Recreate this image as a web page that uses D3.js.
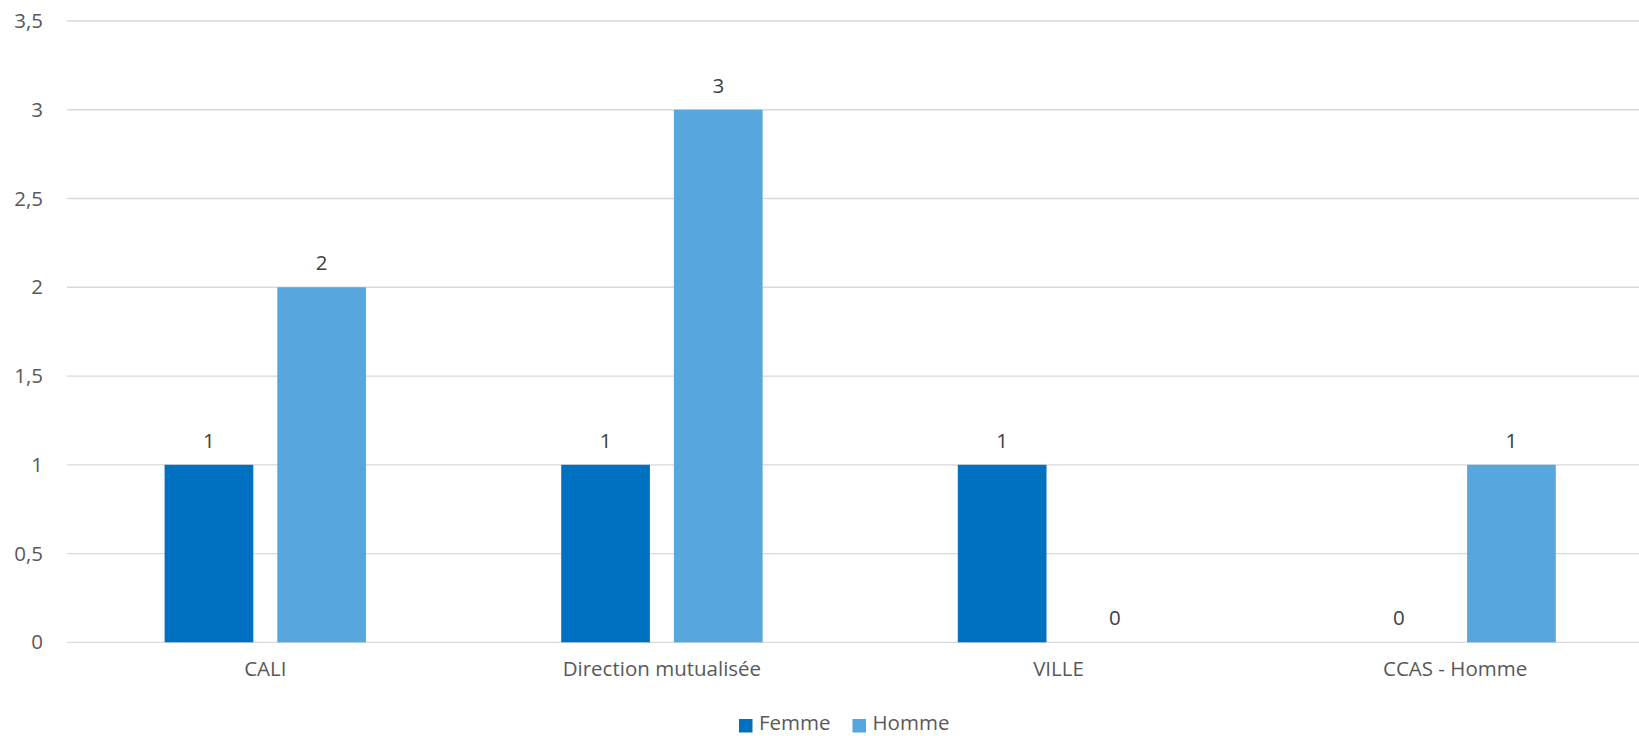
<!DOCTYPE html>
<html>
<head>
<meta charset="utf-8">
<script src="https://cdn.jsdelivr.net/npm/d3@7"></script>
<style>
  html, body { margin: 0; padding: 0; background: #fff; }
  svg { display: block; }
  text { font-family: "Open Sans", "Noto Sans", sans-serif; }
</style>
</head>
<body>
<div id="chart"></div>
<script>
// Categories and series
const categories = ["CALI", "Direction mutualisée", "VILLE", "CCAS - Homme"];
const seriesNames = ["Femme", "Homme"];
const femme = [1, 1, 1, 0];
const homme = [2, 3, 0, 1];
const yTicks = [0, 0.5, 1, 1.5, 2, 2.5, 3, 3.5];
const colors = ["#0070C0", "#57A6DE"];

const W = 1639, H = 736;
const FS = "20.5px";
const svg = d3.select("#chart").append("svg")
  .attr("width", W).attr("height", H);

const plotLeft = 67, bandW = 396.6;
const x = d3.scaleBand()
  .domain(categories)
  .range([plotLeft, plotLeft + bandW * categories.length])
  .paddingInner(0).paddingOuter(0);

const y = d3.scaleLinear().domain([0, 3.5]).range([642.3, 21]);

const barW = 88.7, gap = 24;
const fmt = v => String(v).replace(".", ",");

// Gridlines
svg.append("g").selectAll("line").data(yTicks).join("line")
  .attr("x1", plotLeft).attr("x2", W)
  .attr("y1", d => y(d)).attr("y2", d => y(d))
  .attr("stroke", "#D9D9D9").attr("stroke-width", 1.3);

// Y axis labels
const yAxis = d3.axisLeft(y).tickValues(yTicks).tickFormat(fmt).tickSize(0).tickPadding(0);
const yg = svg.append("g").attr("transform", "translate(43,0)").call(yAxis);
yg.select(".domain").remove();
yg.selectAll("text")
  .attr("fill", "#595959").style("font-size", FS)
  .style("font-family", "'Open Sans', 'Noto Sans', sans-serif");

// X axis labels
const xAxis = d3.axisBottom(x).tickSize(0).tickPadding(0);
const xg = svg.append("g").attr("transform", "translate(0,661)").call(xAxis);
xg.select(".domain").remove();
xg.selectAll("text")
  .attr("fill", "#595959").style("font-size", FS)
  .style("font-family", "'Open Sans', 'Noto Sans', sans-serif");

// Bars and value labels
const data = categories.map((c, i) => ({ c, vals: [femme[i], homme[i]] }));
const groups = svg.append("g").selectAll("g").data(data).join("g");
const offset = s => (s === 0 ? -gap / 2 - barW : gap / 2);

groups.each(function(d) {
  const g = d3.select(this);
  const cx = x(d.c) + x.bandwidth() / 2;
  d.vals.forEach((v, s) => {
    const bx = cx + offset(s);
    g.append("rect")
      .attr("x", bx).attr("width", barW)
      .attr("y", y(v)).attr("height", y(0) - y(v))
      .attr("fill", colors[s]);
    g.append("text")
      .attr("x", bx + barW / 2).attr("y", y(v) - 17)
      .attr("text-anchor", "middle")
      .attr("fill", "#404040").style("font-size", FS)
      .text(fmt(v));
  });
});

// Legend
const legend = svg.append("g");
const legendItems = [
  { name: seriesNames[0], color: colors[0], x: 739 },
  { name: seriesNames[1], color: colors[1], x: 852.5 }
];
legendItems.forEach(it => {
  legend.append("rect").attr("x", it.x).attr("y", 719)
    .attr("width", 13.5).attr("height", 13.5).attr("fill", it.color);
  legend.append("text").attr("x", it.x + 20).attr("y", 730)
    .attr("fill", "#595959").style("font-size", FS).text(it.name);
});
</script>
</body>
</html>
